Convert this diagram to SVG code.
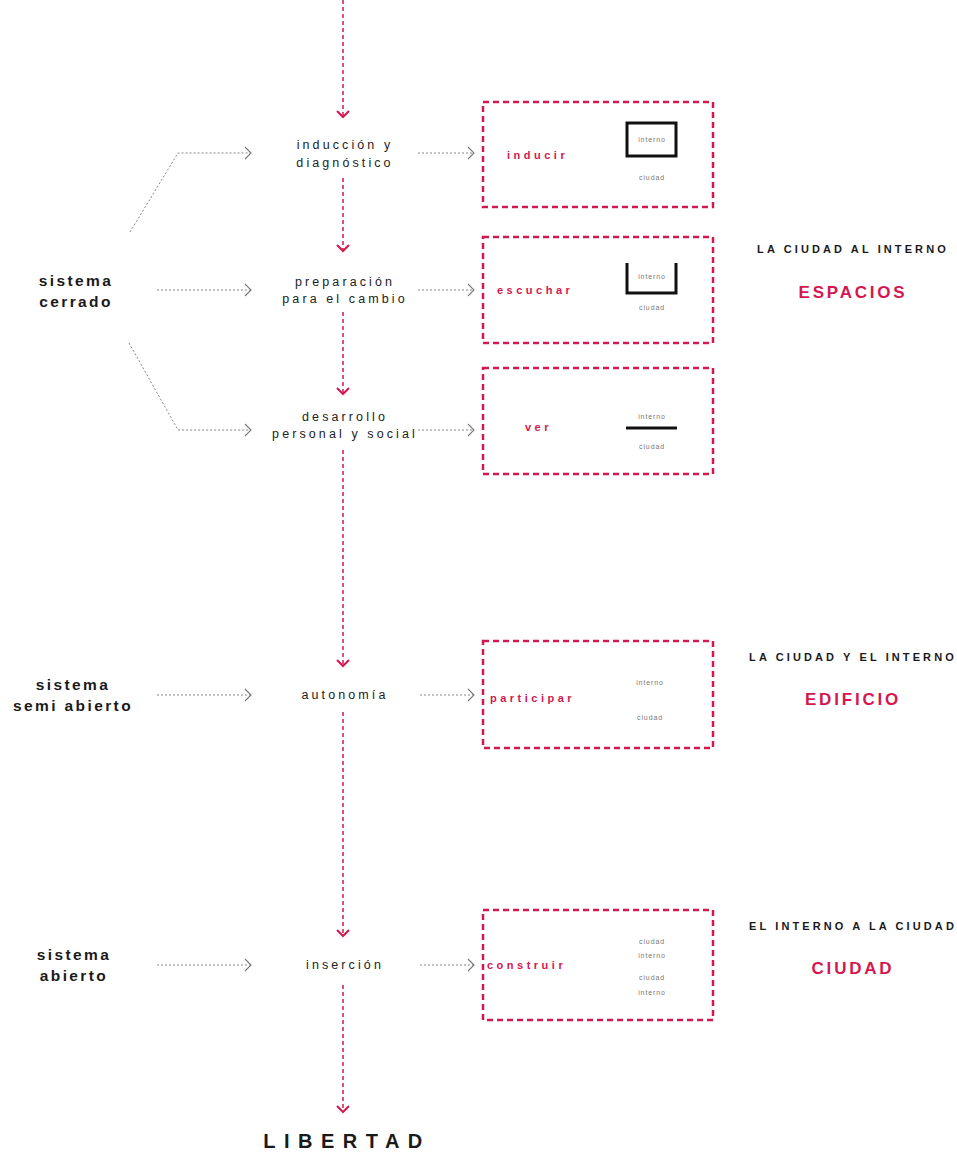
<svg xmlns="http://www.w3.org/2000/svg" width="957" height="1160" viewBox="0 0 957 1160">
<defs>
<style>
.bg{fill:#ffffff}
.main{fill:none;stroke:#d3184f;stroke-width:1.5;stroke-dasharray:4 3}
.chev{fill:none;stroke:#d3184f;stroke-width:2}
.garr{fill:none;stroke:#888;stroke-width:1;stroke-dasharray:2 2}
.ghead{fill:none;stroke:#777;stroke-width:1.1}
.box{fill:none;stroke:#d3184f;stroke-width:2.5;stroke-dasharray:6 4}
.step{font-family:"Liberation Sans",Arial,sans-serif;font-size:12.5px;letter-spacing:3.1px;fill:#222;text-anchor:middle}
.sys{font-family:"Liberation Sans",Arial,sans-serif;font-size:15.5px;font-weight:bold;letter-spacing:2.4px;fill:#1a1a1a;text-anchor:middle}
.verb{font-family:"Liberation Sans",Arial,sans-serif;font-size:11px;font-weight:bold;letter-spacing:3.5px;fill:#d3184f}
.tiny{font-family:"Liberation Sans",Arial,sans-serif;font-size:7px;letter-spacing:0.9px;fill:#777;text-anchor:middle}
.rlab{font-family:"Liberation Sans",Arial,sans-serif;font-size:11px;font-weight:bold;letter-spacing:3.1px;fill:#1a1a1a;text-anchor:middle}
.rbig{font-family:"Liberation Sans",Arial,sans-serif;font-size:17px;font-weight:bold;letter-spacing:2.8px;fill:#d3184f;text-anchor:middle}
.lib{font-family:"Liberation Sans",Arial,sans-serif;font-size:20px;font-weight:bold;letter-spacing:8.5px;fill:#1a1a1a;text-anchor:middle}
.sym{fill:none;stroke:#111;stroke-width:3}
</style>
</defs>
<rect class="bg" x="0" y="0" width="957" height="1160"/>

<g id="connectors">
  <!-- main vertical flow -->
  <line class="main" x1="343" y1="0" x2="343" y2="117"/>
  <polyline class="chev" points="337,111 343,117 349,111"/>
  <line class="main" x1="343" y1="178" x2="343" y2="251"/>
  <polyline class="chev" points="337,245 343,251 349,245"/>
  <line class="main" x1="343" y1="312" x2="343" y2="394"/>
  <polyline class="chev" points="337,388 343,394 349,388"/>
  <line class="main" x1="343" y1="450" x2="343" y2="666"/>
  <polyline class="chev" points="337,660 343,666 349,660"/>
  <line class="main" x1="343" y1="712" x2="343" y2="936"/>
  <polyline class="chev" points="337,930 343,936 349,930"/>
  <line class="main" x1="343" y1="985" x2="343" y2="1112"/>
  <polyline class="chev" points="337,1106 343,1112 349,1106"/>

  <!-- sistema cerrado branches -->
  <polyline class="garr" points="130,232 178,153 251,153"/>
  <polyline class="ghead" points="245,147 251,153 245,159"/>
  <line class="garr" x1="157" y1="290" x2="251" y2="290"/>
  <polyline class="ghead" points="245,284 251,290 245,296"/>
  <polyline class="garr" points="129,343 178,430 251,430"/>
  <polyline class="ghead" points="245,424 251,430 245,436"/>

  <!-- sistema semi abierto / abierto -->
  <line class="garr" x1="157" y1="695" x2="251" y2="695"/>
  <polyline class="ghead" points="245,689 251,695 245,701"/>
  <line class="garr" x1="157" y1="965" x2="251" y2="965"/>
  <polyline class="ghead" points="245,959 251,965 245,971"/>

  <!-- steps to boxes -->
  <line class="garr" x1="418" y1="153" x2="474" y2="153"/>
  <polyline class="ghead" points="468,147 474,153 468,159"/>
  <line class="garr" x1="418" y1="290" x2="474" y2="290"/>
  <polyline class="ghead" points="468,284 474,290 468,296"/>
  <line class="garr" x1="418" y1="430" x2="474" y2="430"/>
  <polyline class="ghead" points="468,424 474,430 468,436"/>
  <line class="garr" x1="420" y1="695" x2="474" y2="695"/>
  <polyline class="ghead" points="468,689 474,695 468,701"/>
  <line class="garr" x1="420" y1="965" x2="474" y2="965"/>
  <polyline class="ghead" points="468,959 474,965 468,971"/>
</g>

<g id="sistema-cerrado">
  <text class="sys" x="76" y="286">sistema</text>
  <text class="sys" x="76" y="307">cerrado</text>
</g>
<g id="sistema-semi-abierto">
  <text class="sys" x="73" y="690">sistema</text>
  <text class="sys" x="73" y="711">semi abierto</text>
</g>
<g id="sistema-abierto">
  <text class="sys" x="74" y="960">sistema</text>
  <text class="sys" x="74" y="981">abierto</text>
</g>

<g id="step-induccion">
  <text class="step" x="345" y="149">inducción y</text>
  <text class="step" x="345" y="167">diagnóstico</text>
</g>
<g id="step-preparacion">
  <text class="step" x="345" y="286">preparación</text>
  <text class="step" x="345" y="303">para el cambio</text>
</g>
<g id="step-desarrollo">
  <text class="step" x="345" y="421">desarrollo</text>
  <text class="step" x="345" y="438">personal y social</text>
</g>
<g id="step-autonomia">
  <text class="step" x="345" y="699">autonomía</text>
</g>
<g id="step-insercion">
  <text class="step" x="345" y="969">inserción</text>
</g>

<g id="box-inducir">
  <rect class="box" x="483" y="102" width="230" height="105"/>
  <text class="verb" x="507" y="159">inducir</text>
  <rect class="sym" x="627" y="123" width="49" height="33"/>
  <text class="tiny" x="652" y="142">interno</text>
  <text class="tiny" x="652" y="180">ciudad</text>
</g>
<g id="box-escuchar">
  <rect class="box" x="483" y="237" width="230" height="106"/>
  <text class="verb" x="497" y="294">escuchar</text>
  <polyline class="sym" points="627,263 627,293 676,293 676,263"/>
  <text class="tiny" x="652" y="279">interno</text>
  <text class="tiny" x="652" y="310">ciudad</text>
</g>
<g id="box-ver">
  <rect class="box" x="483" y="368" width="230" height="106"/>
  <text class="verb" x="525" y="431">ver</text>
  <line class="sym" x1="626" y1="428" x2="677" y2="428"/>
  <text class="tiny" x="652" y="419">interno</text>
  <text class="tiny" x="652" y="449">ciudad</text>
</g>
<g id="box-participar">
  <rect class="box" x="483" y="641" width="230" height="107"/>
  <text class="verb" x="490" y="702">participar</text>
  <text class="tiny" x="650" y="685">interno</text>
  <text class="tiny" x="650" y="720">ciudad</text>
</g>
<g id="box-construir">
  <rect class="box" x="483" y="910" width="230" height="110"/>
  <text class="verb" x="487" y="969">construir</text>
  <text class="tiny" x="652" y="944">ciudad</text>
  <text class="tiny" x="652" y="958">interno</text>
  <text class="tiny" x="652" y="980">ciudad</text>
  <text class="tiny" x="652" y="995">interno</text>
</g>

<g id="label-espacios">
  <text class="rlab" x="853" y="253">LA CIUDAD AL INTERNO</text>
  <text class="rbig" x="853" y="298">ESPACIOS</text>
</g>
<g id="label-edificio">
  <text class="rlab" x="853" y="661">LA CIUDAD Y EL INTERNO</text>
  <text class="rbig" x="853" y="705">EDIFICIO</text>
</g>
<g id="label-ciudad">
  <text class="rlab" x="853" y="930">EL INTERNO A LA CIUDAD</text>
  <text class="rbig" x="853" y="974">CIUDAD</text>
</g>

<g id="libertad">
  <text class="lib" x="347" y="1148">LIBERTAD</text>
</g>
</svg>
